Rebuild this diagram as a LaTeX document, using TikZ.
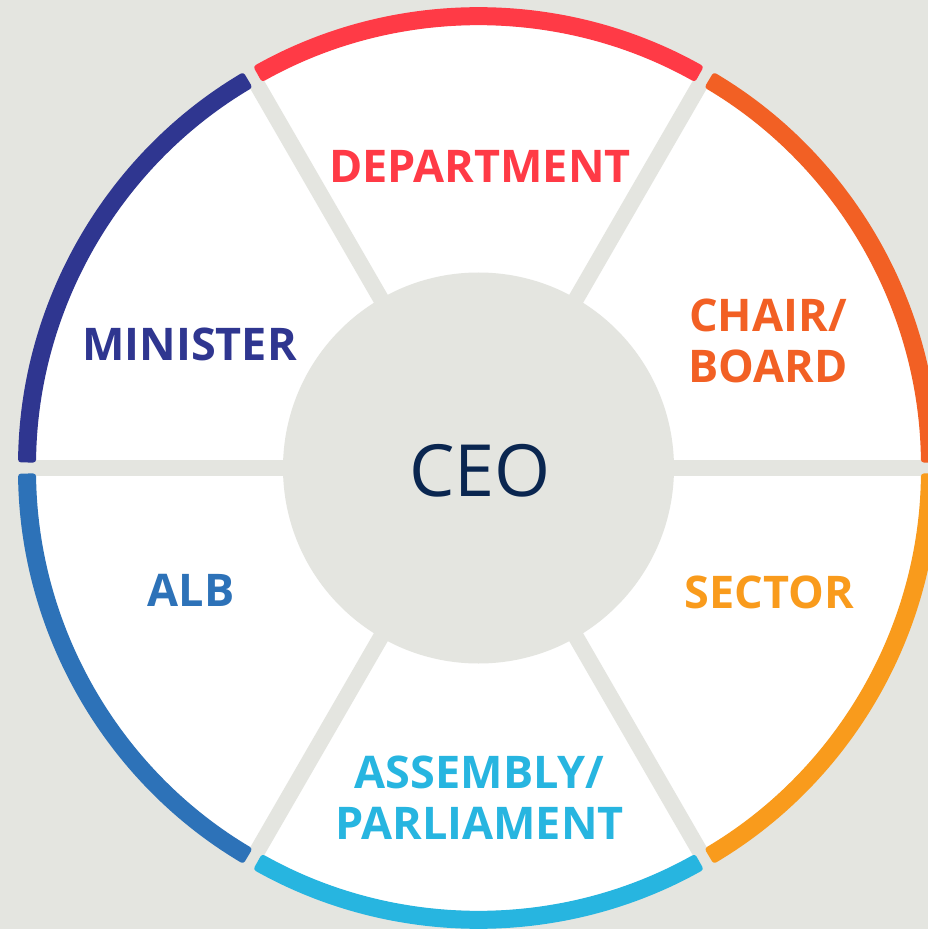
\documentclass[tikz,border=0pt]{standalone}
\usepackage{fontspec}
\setmainfont{Open Sans}
\usepackage{tikz}
\usetikzlibrary{positioning}

\definecolor{bgGrey}{HTML}{E4E5E0}
\definecolor{depRed}{HTML}{FF3A46}
\definecolor{chairOrange}{HTML}{F26024}
\definecolor{sectorOrange}{HTML}{F99B1C}
\definecolor{assemblyBlue}{HTML}{27B5E0}
\definecolor{albBlue}{HTML}{2D72B8}
\definecolor{ministerNavy}{HTML}{2F3690}
\definecolor{ceoNavy}{HTML}{0A2650}

\begin{document}
\begin{tikzpicture}[x=1pt, y=1pt,
	spoke/.style={draw=bgGrey, line width=16pt},
	rim/.style={rounded corners=3pt},
	label/.style={font=\fontsize{45}{51}\selectfont\bfseries, align=center, inner sep=0pt}]
	\useasboundingbox (-478.5,-461) rectangle (449.5,468);
	\fill[bgGrey] (-478.5,-461) rectangle (449.5,468);
	\fill[white] (0,0) circle (443);

	% spokes between the six parts
	\draw[spoke] (0:0) -- (0:470);
	\draw[spoke] (0:0) -- (60:470);
	\draw[spoke] (0:0) -- (120:470);
	\draw[spoke] (0:0) -- (180:470);
	\draw[spoke] (0:0) -- (240:470);
	\draw[spoke] (0:0) -- (300:470);

	% coloured rim
	\fill[rim, depRed] (60.7:442.5) arc[start angle=60.7, end angle=119.3, radius=442.5] -- (119.3:460.5) arc[start angle=119.3, end angle=60.7, radius=460.5] -- cycle;
	\fill[rim, chairOrange] (0.7:442.5) arc[start angle=0.7, end angle=59.3, radius=442.5] -- (59.3:460.5) arc[start angle=59.3, end angle=0.7, radius=460.5] -- cycle;
	\fill[rim, sectorOrange] (-59.3:442.5) arc[start angle=-59.3, end angle=-0.7, radius=442.5] -- (-0.7:460.5) arc[start angle=-0.7, end angle=-59.3, radius=460.5] -- cycle;
	\fill[rim, assemblyBlue] (240.7:442.5) arc[start angle=240.7, end angle=299.3, radius=442.5] -- (299.3:460.5) arc[start angle=299.3, end angle=240.7, radius=460.5] -- cycle;
	\fill[rim, albBlue] (180.7:442.5) arc[start angle=180.7, end angle=239.3, radius=442.5] -- (239.3:460.5) arc[start angle=239.3, end angle=180.7, radius=460.5] -- cycle;
	\fill[rim, ministerNavy] (120.7:442.5) arc[start angle=120.7, end angle=179.3, radius=442.5] -- (179.3:460.5) arc[start angle=179.3, end angle=120.7, radius=460.5] -- cycle;

	\node (hub) at (0,0) [circle, fill=bgGrey, minimum size=391pt, inner sep=0pt] {};
	\node (ceo) at (1.5,-2.5) [font=\fontsize{72}{80}\selectfont, text=ceoNavy, inner sep=0pt] {CEO};

	\node (dep) at (1.5,302) [label, text=depRed] {DEPARTMENT};
	\node (chair) at (289.5,127.5) [label, text=chairOrange] {CHAIR/\\BOARD};
	\node (sector) at (291,-124.5) [label, text=sectorOrange] {SECTOR};
	\node (assembly) at (1,-329.5) [label, text=assemblyBlue] {ASSEMBLY/\\PARLIAMENT};
	\node (alb) at (-287.5,-122.5) [label, text=albBlue] {ALB};
	\node (minister) at (-289,123.5) [label, text=ministerNavy] {MINISTER};
\end{tikzpicture}
\end{document}
